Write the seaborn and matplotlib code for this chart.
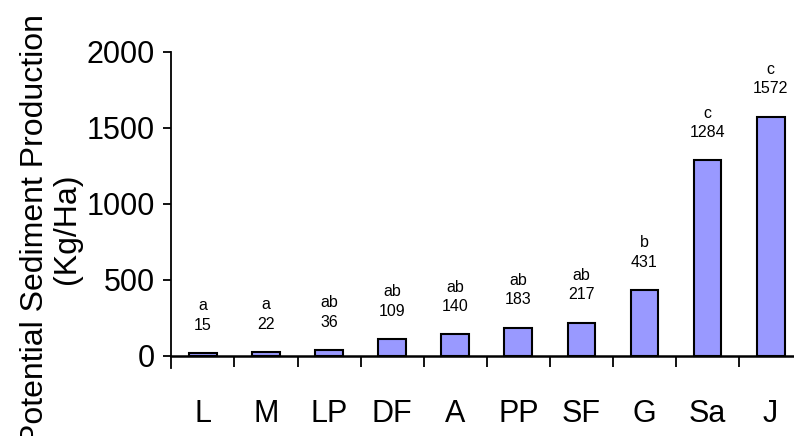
import matplotlib
matplotlib.use("Agg")
import matplotlib.pyplot as plt
import seaborn as sns
import pandas as pd
import numpy as np

# Potential sediment production per land-cover class
categories = ["L", "M", "LP", "DF", "A", "PP", "SF", "G", "Sa", "J"]
sediment = [15, 22, 36, 109, 140, 183, 217, 431, 1284, 1572]
groups = ["a", "a", "ab", "ab", "ab", "ab", "ab", "b", "c", "c"]
y_ticks = [0, 500, 1000, 1500, 2000]

df = pd.DataFrame({"cover": categories, "sediment": sediment})

sns.set_style("white")
plt.rcParams["font.family"] = ["Liberation Sans", "DejaVu Sans"]
plt.rcParams.update({"text.color": "black", "axes.labelcolor": "black",
                     "xtick.color": "black", "ytick.color": "black"})

W, H = 794, 436
fig = plt.figure(figsize=(W / 100, H / 100), dpi=100)

# axes box in pixels
left_px, right_px = 170.7, 794
top_px, bottom_px = 51.7, 368
ax = fig.add_axes([left_px / W, 1 - bottom_px / H,
                   (right_px - left_px) / W, (bottom_px - top_px) / H])

sns.barplot(data=df, x="cover", y="sediment", order=categories,
            color="#9999FF", saturation=1, edgecolor="black",
            linewidth=1.5, width=0.44, ax=ax, zorder=3)

px_per_unit = (355.5 - top_px) / 2000
ax.set_ylim(-(bottom_px - 355.5) / px_per_unit, 2000)
ax.set_xlim(-0.51, 9.37)

for sp in ["top", "right"]:
    ax.spines[sp].set_visible(False)
ax.spines["bottom"].set_position(("data", 0))
ax.spines["left"].set_bounds(ax.get_ylim()[0], 2000)
ax.spines["bottom"].set_linewidth(1.8)
ax.spines["left"].set_linewidth(1.3)
for sp in ["bottom", "left"]:
    ax.spines[sp].set_color("black")
    ax.spines[sp].set_zorder(4)

ax.set_yticks(y_ticks)
ax.set_yticklabels([str(t) for t in y_ticks])
ax.tick_params(axis="y", direction="out", length=5.8, width=1.3,
               pad=5.5, labelsize=22, color="black", left=True)

ax.set_xticks(range(len(categories)))
ax.set_xticklabels(categories)
ax.set_xticks(np.arange(0.5, len(categories) - 1, 1.0), minor=True)
ax.tick_params(axis="x", which="major", length=0, pad=31, labelsize=22)
ax.tick_params(axis="x", which="minor", direction="out", length=8,
               width=1.3, color="black", bottom=True)
ax.set_xlabel("")

ax.set_ylabel("Potential Sediment Production\n(Kg/Ha)", fontsize=23,
              linespacing=1.1, color="black")
ax.yaxis.set_label_coords((82 - left_px) / (right_px - left_px),
                          (bottom_px - 229) / (bottom_px - top_px))

for i, (val, grp) in enumerate(zip(sediment, groups)):
    ax.annotate(str(val), (i, val), xytext=(0, 20), textcoords="offset points",
                ha="center", va="center", fontsize=11.5, color="black")
    ax.annotate(grp, (i, val), xytext=(0, 34), textcoords="offset points",
                ha="center", va="center", fontsize=11.5, color="black")

fig.savefig("out.png", dpi=100)
